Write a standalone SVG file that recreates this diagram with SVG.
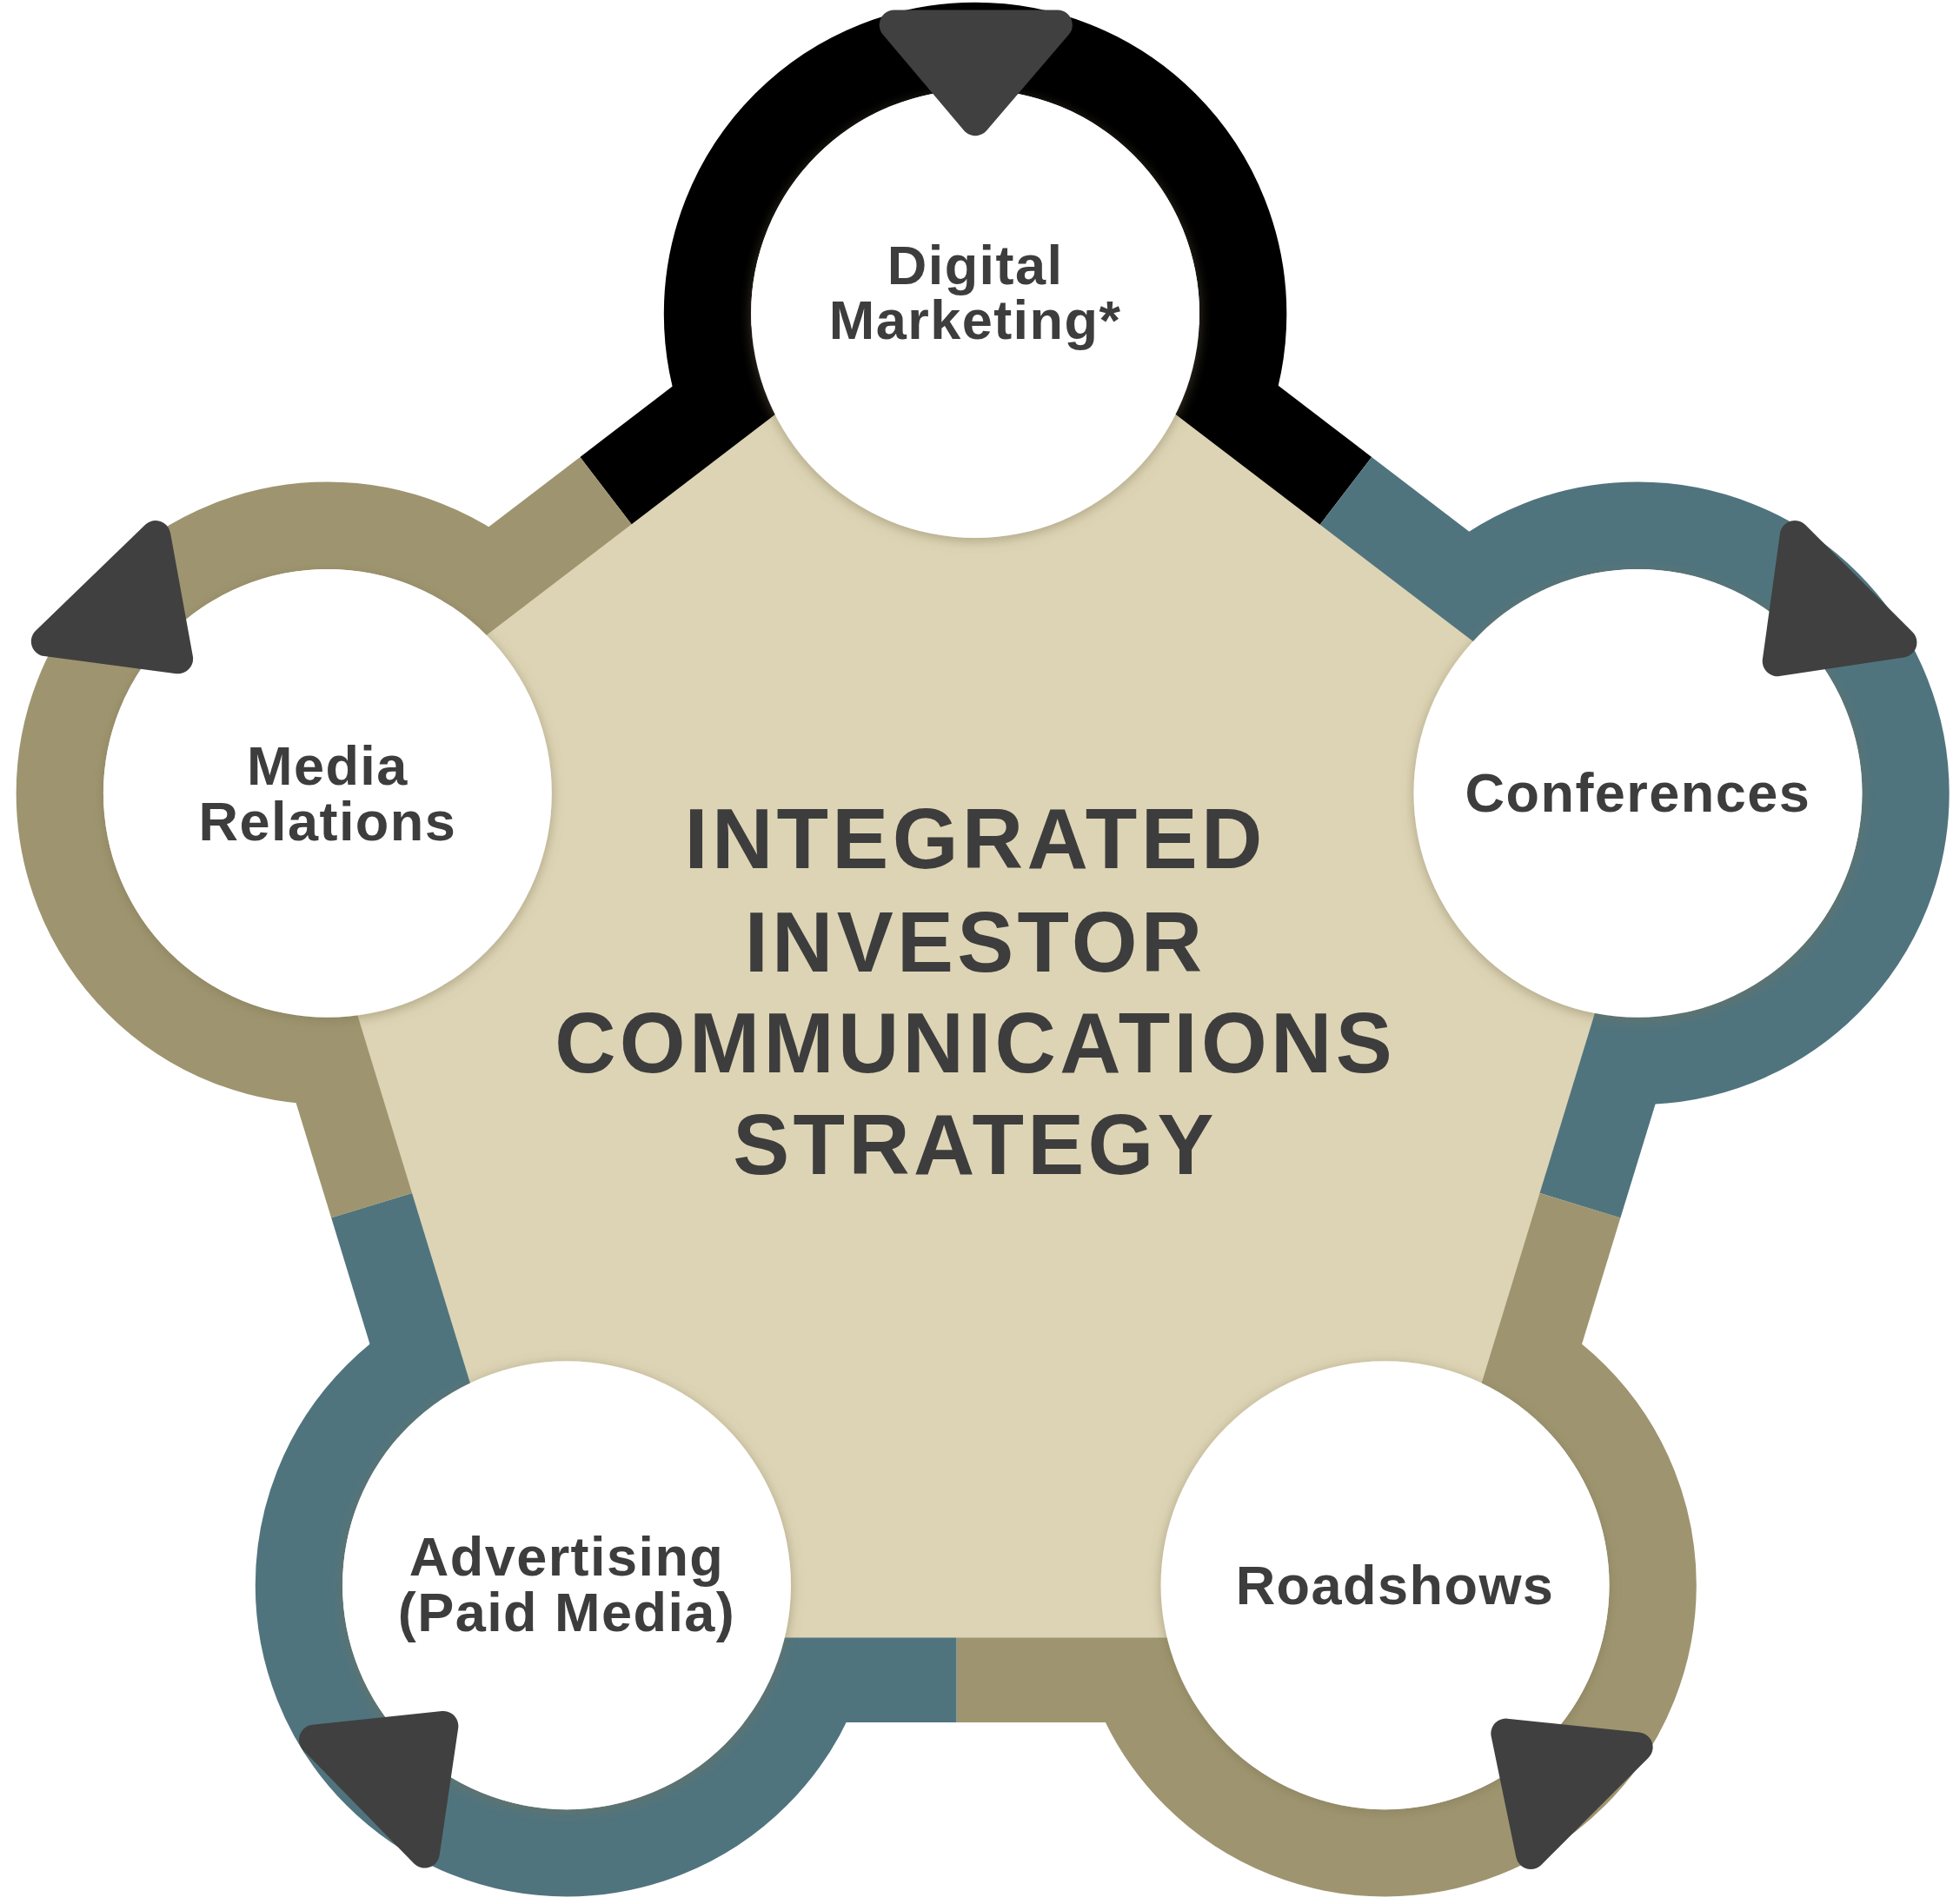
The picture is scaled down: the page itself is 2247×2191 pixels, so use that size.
<svg xmlns="http://www.w3.org/2000/svg" width="2247" height="2191" viewBox="0 0 2247 2191">
<style>
.band{stroke-width:136;stroke-linecap:butt;fill:none}
.ring{fill:none;stroke-width:70}
.node{fill:#fff;filter:url(#sh)}
.arr{fill:#404040;stroke:#404040;stroke-width:24;stroke-linejoin:round}
.lbl{font-family:"Liberation Sans",Arial,sans-serif;font-weight:bold;font-size:44px;fill:#3d3d3d;text-anchor:middle;letter-spacing:1px}
.ttl{font-family:"Liberation Sans",Arial,sans-serif;font-weight:bold;font-size:68px;fill:#3d3d3d;text-anchor:middle;letter-spacing:3px}
</style>
<defs>
<filter id="sh" x="-20%" y="-20%" width="140%" height="140%"><feDropShadow dx="0" dy="2" stdDeviation="5" flood-color="#7a7050" flood-opacity="0.5"/></filter>
</defs>
<rect width="2247" height="2191" fill="#fff"/>
<g transform="scale(1.43304)">
<g id="connectors">
<line class="band" x1="783" y1="210" x2="507" y2="421" stroke="#000"/>
<line class="band" x1="507" y1="421" x2="231" y2="632" stroke="#9e9570"/>
<line class="band" x1="784" y1="210" x2="1060" y2="421" stroke="#000"/>
<line class="band" x1="1060" y1="421" x2="1336" y2="632" stroke="#50747e"/>
<line class="band" x1="1336" y1="632" x2="1236" y2="958" stroke="#50747e"/>
<line class="band" x1="1236" y1="958" x2="1127" y2="1315" stroke="#9e9570"/>
<line class="band" x1="1127" y1="1315" x2="768" y2="1315" stroke="#9e9570"/>
<line class="band" x1="768" y1="1315" x2="440" y2="1315" stroke="#50747e"/>
<line class="band" x1="440" y1="1315" x2="331" y2="958" stroke="#50747e"/>
<line class="band" x1="331" y1="958" x2="231" y2="632" stroke="#9e9570"/>
<circle class="ring" cx="783" cy="252" r="215" stroke="#000"/>
<circle class="ring" cx="1315" cy="637" r="215" stroke="#50747e"/>
<circle class="ring" cx="1112" cy="1273" r="215" stroke="#9e9570"/>
<circle class="ring" cx="455" cy="1273" r="215" stroke="#50747e"/>
<circle class="ring" cx="263" cy="637" r="215" stroke="#9e9570"/>
</g>
<polygon id="center" points="783,210 1336,632 1127,1315 440,1315 231,632" fill="#ddd4b5"/>
<text class="ttl" x="783" y="697">INTEGRATED</text>
<text class="ttl" x="783" y="780">INVESTOR</text>
<text class="ttl" x="783" y="861">COMMUNICATIONS</text>
<text class="ttl" x="783" y="943">STRATEGY</text>
<g id="dm"><circle class="node" cx="783" cy="252" r="180"/><text class="lbl" x="783" y="228">Digital</text><text class="lbl" x="783" y="272">Marketing*</text></g>
<g id="conf"><circle class="node" cx="1315" cy="637" r="180"/><text class="lbl" x="1315" y="652">Conferences</text></g>
<g id="road"><circle class="node" cx="1112" cy="1273" r="180"/><text class="lbl" x="1120" y="1288">Roadshows</text></g>
<g id="adv"><circle class="node" cx="455" cy="1273" r="180"/><text class="lbl" x="455" y="1265">Advertising</text><text class="lbl" x="455" y="1310">(Paid Media)</text></g>
<g id="mr"><circle class="node" cx="263" cy="637" r="180"/><text class="lbl" x="263" y="630">Media</text><text class="lbl" x="263" y="675">Relations</text></g>
<g id="arrows">
<polygon class="arr" points="718,20 849,20 783,97"/>
<polygon class="arr" points="1441,430 1527,516 1427,531"/>
<polygon class="arr" points="1209,1392 1315,1403 1229,1489"/>
<polygon class="arr" points="252,1397 356,1386 341,1488"/>
<polygon class="arr" points="125,430 143,529 37,515"/>
</g>
</g>
</svg>
